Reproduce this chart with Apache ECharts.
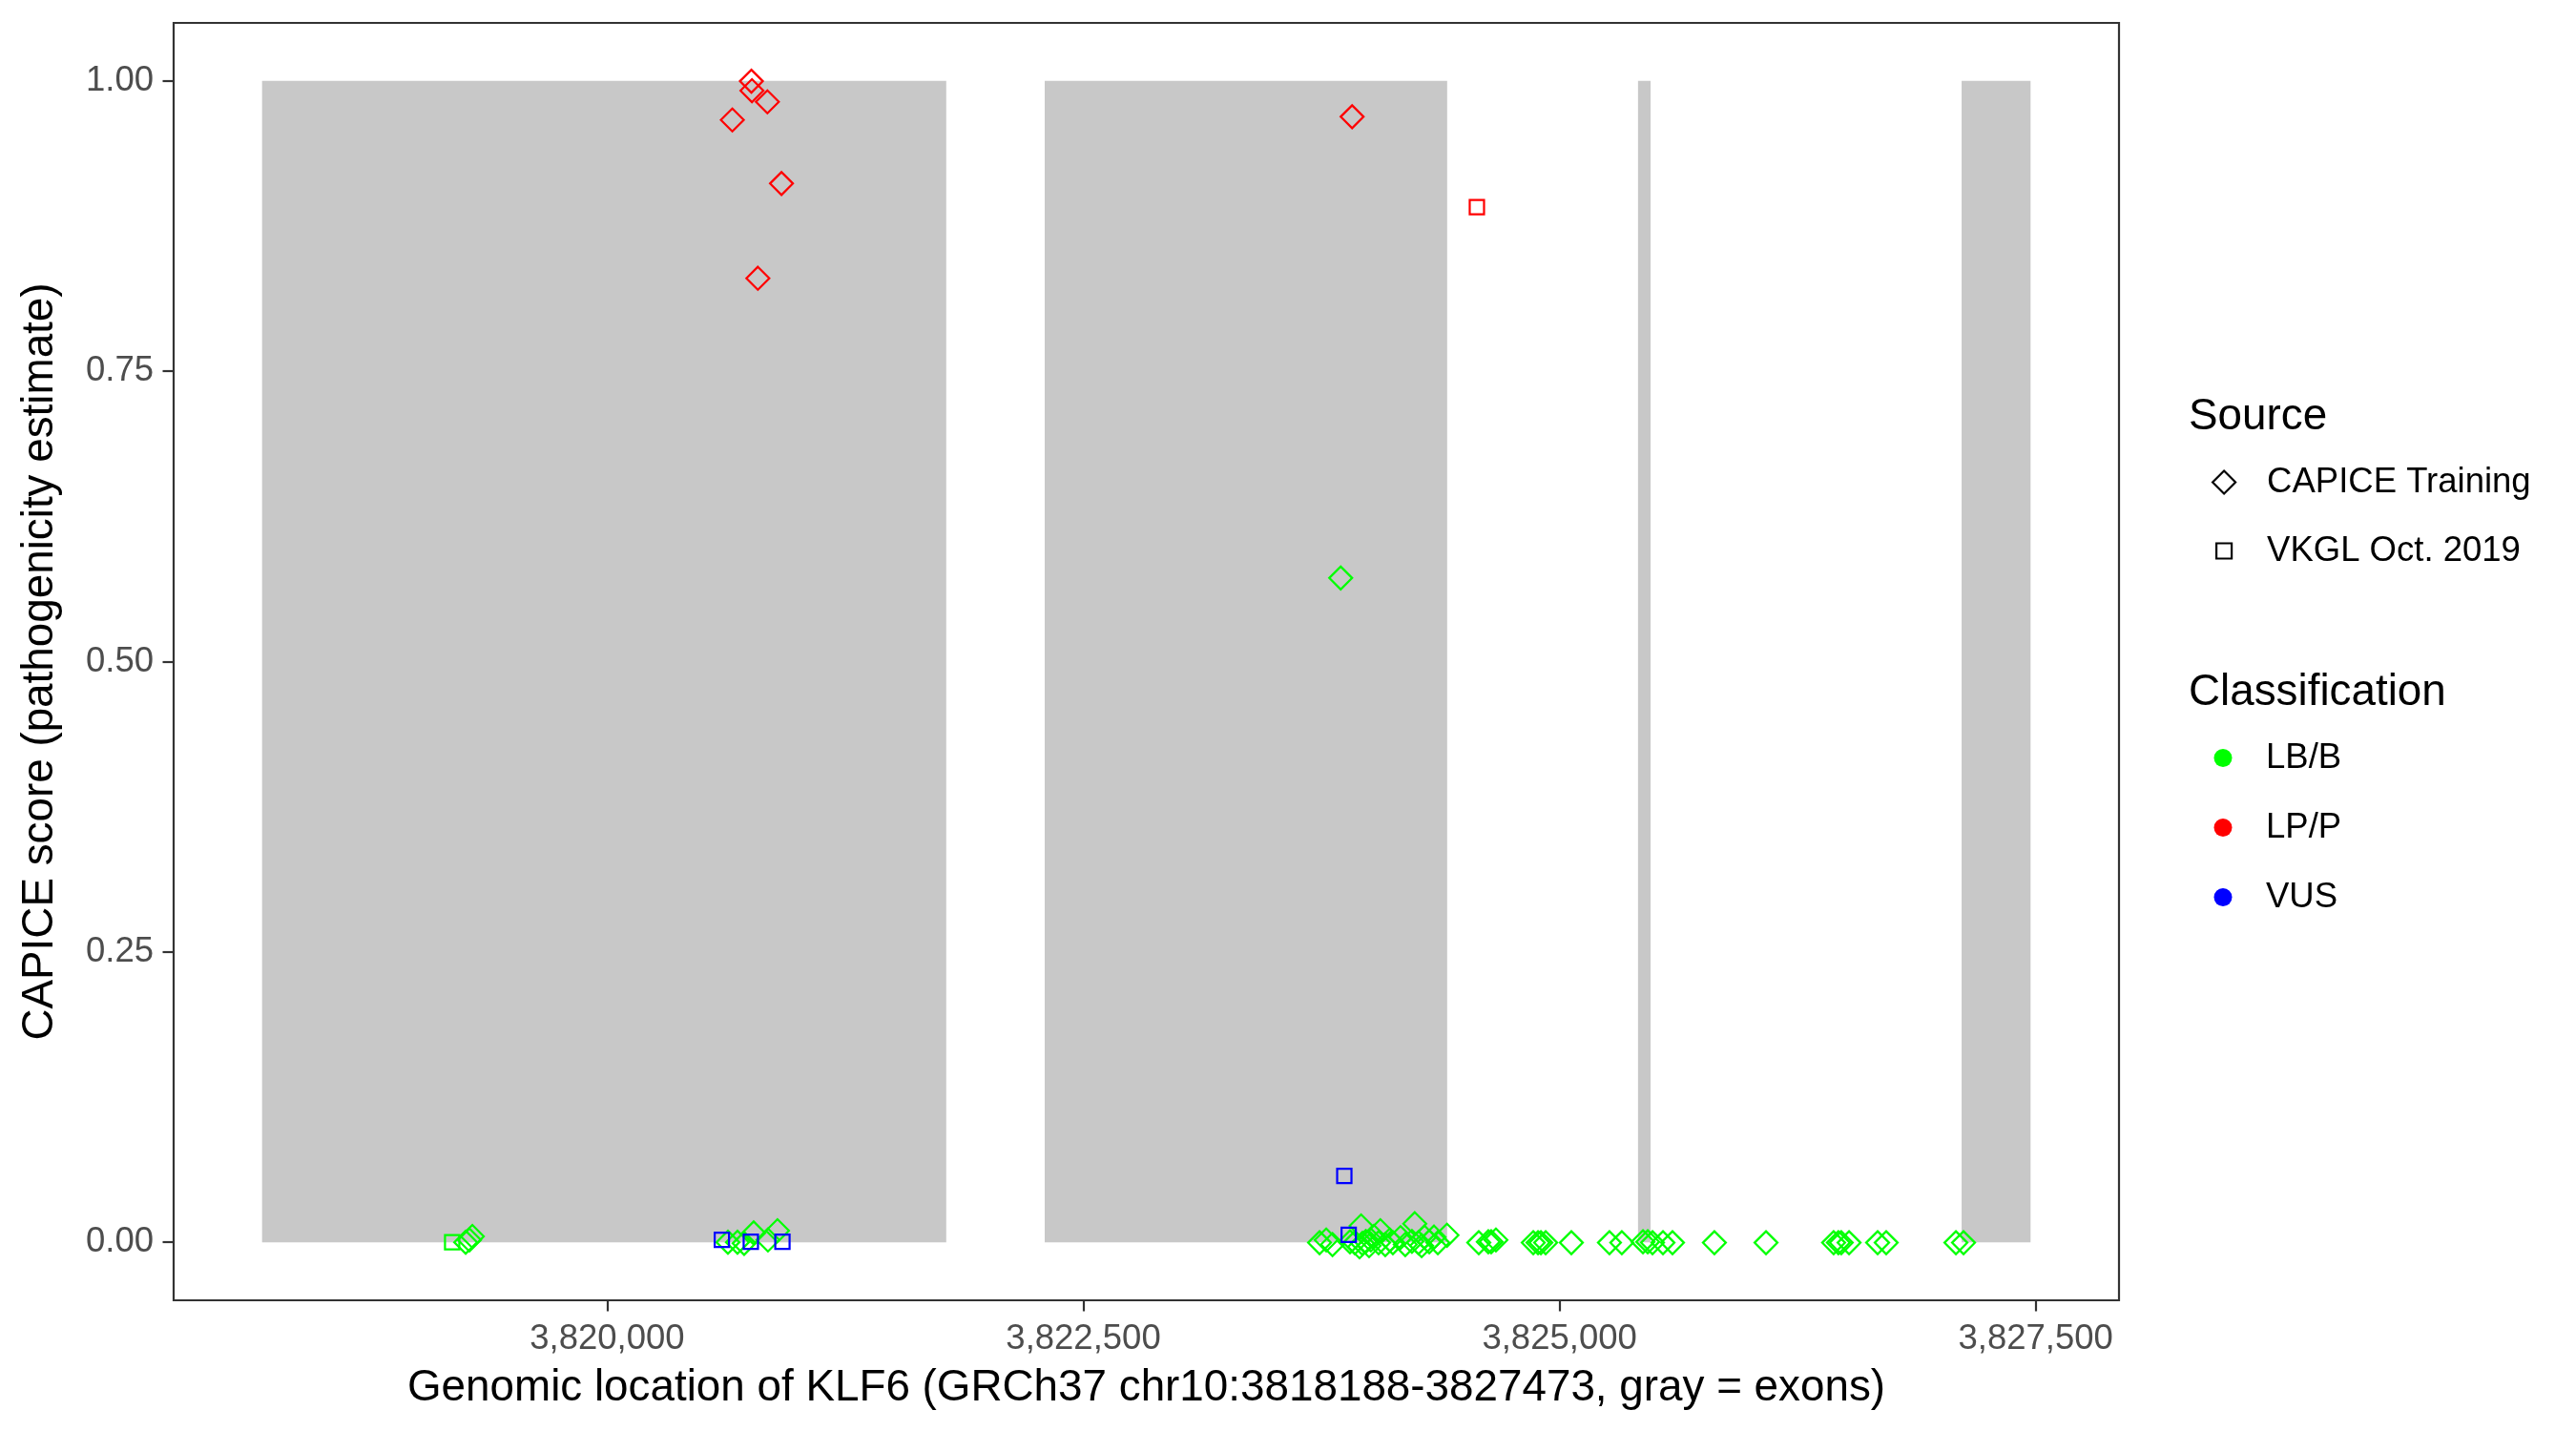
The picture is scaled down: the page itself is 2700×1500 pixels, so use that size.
<!DOCTYPE html>
<html>
<head>
<meta charset="utf-8">
<script src="https://cdn.jsdelivr.net/npm/echarts@6/dist/echarts.min.js"></script>
<style>
  html, body { margin: 0; padding: 0; background: #fff; }
  #chart { width: 2700px; height: 1500px; }
</style>
</head>
<body>
<div id="chart"></div>
<script>
// ---------------- data ----------------
const xTicks = [3820000, 3822500, 3825000, 3827500];
const yTicks = [0, 0.25, 0.5, 0.75, 1];
const geneStart = 3818188;
const geneEnd = 3827473;

const exonStarts = [3818188, 3822297, 3825412, 3827111];
const exonEnds   = [3821780, 3824410, 3825478, 3827473];

// CAPICE Training, LB/B (green diamonds) [position, score]
const capiceLBB = [
  [3819257, 0.000], [3819277, 0.002], [3819292, 0.005],
  [3820634, 0.000], [3820684, 0.000], [3820719, -0.001], [3820769, 0.008], [3820844, 0.002], [3820894, 0.010],
  [3823851, 0.572],
  [3823740, -0.0004], [3823775, 0.002], [3823808, -0.002], [3823900, 0.0004], [3823925, -0.0004],
  [3823950, -0.004], [3823958, 0.014], [3823965, -0.001], [3823983, 0.0007], [3824000, -0.003],
  [3824009, 0.002], [3824025, 0.005], [3824050, -0.0004], [3824059, 0.010], [3824085, -0.002],
  [3824109, 0.002], [3824125, -0.0004], [3824165, 0.004], [3824190, -0.002], [3824225, 0.0007],
  [3824240, 0.016], [3824259, -0.0004], [3824276, -0.003], [3824291, 0.0045], [3824316, 0.0004],
  [3824341, 0.0045], [3824361, -0.0004], [3824409, 0.006],
  [3824576, -0.0004], [3824626, 0.0004], [3824641, 0.0004], [3824666, 0.002],
  [3824862, -0.0004], [3824887, -0.0004], [3824902, -0.0004], [3824927, -0.0004], [3825062, -0.0004],
  [3825262, -0.0004], [3825327, -0.0004], [3825438, 0.0004], [3825463, 0.0004], [3825488, -0.0004],
  [3825543, -0.0004], [3825593, -0.0004], [3825813, -0.0004], [3826084, -0.0004],
  [3826439, -0.0004], [3826464, -0.0004], [3826479, -0.0004], [3826520, -0.0004],
  [3826670, -0.0004], [3826715, -0.0004], [3827081, -0.0004], [3827121, -0.0004]
];
// CAPICE Training, LP/P (red diamonds)
const capiceLPP = [
  [3820757, 0.9998], [3820760, 0.9916], [3820841, 0.982], [3820657, 0.9664],
  [3820915, 0.9117], [3820791, 0.8301], [3823911, 0.9692]
];
// VKGL Oct. 2019, LB/B (green squares)
const vkglLBB = [[3819186, 0.000]];
// VKGL Oct. 2019, LP/P (red squares)
const vkglLPP = [[3824566, 0.8914]];
// VKGL Oct. 2019, VUS (blue squares)
const vkglVUS = [
  [3823870, 0.0571], [3823893, 0.0064], [3820602, 0.002], [3820754, 0.0004], [3820920, 0.0004]
];

const classNames = ['LB/B', 'LP/P', 'VUS'];
const classColors = { 'LB/B': '#00FF00', 'LP/P': '#FF0000', 'VUS': '#0000FF' };

// ---------------- chart ----------------
const FONT = 'Liberation Sans, Arial, Helvetica, sans-serif';
const chart = echarts.init(document.getElementById('chart'), null, { renderer: 'canvas' });

const pad = 0.05 * (geneEnd - geneStart);

function pointSeries(name, symbol, size, cls, data) {
  return {
    name: name,
    type: 'scatter',
    symbol: symbol,
    symbolSize: size,
    data: data,
    z: 3,
    itemStyle: { color: 'rgba(0,0,0,0)', borderColor: classColors[cls], borderWidth: 2.2, opacity: 1 },
    emphasis: { disabled: true },
    silent: true
  };
}

function legendBlock(top, size, gap, items) {
  return {
    orient: 'vertical', left: 2330 - size / 2, top: top, padding: 0,
    itemWidth: size, itemHeight: size, itemGap: gap, selectedMode: false,
    textStyle: { fontSize: 36.5, color: '#000000', fontFamily: FONT, padding: [0, 0, 0, 40 - size / 2] },
    data: items
  };
}

const option = {
  animation: false,
  backgroundColor: '#ffffff',
  grid: {
    left: 182, right: 479, top: 24, bottom: 137,
    show: true, borderColor: '#333333', borderWidth: 2.2, backgroundColor: 'transparent', z: 10
  },
  xAxis: {
    type: 'value',
    min: geneStart - pad,
    max: geneEnd + pad,
    splitLine: { show: false },
    axisLine: { show: false, onZero: false },
    axisTick: { show: true, customValues: xTicks, length: 11.5, lineStyle: { color: '#333333', width: 2.2 } },
    axisLabel: {
      show: true, customValues: xTicks, margin: 22,
      formatter: v => Math.round(v).toLocaleString('en-US'),
      fontSize: 36.5, color: '#4D4D4D', fontFamily: FONT
    },
    name: 'Genomic location of KLF6 (GRCh37 chr10:3818188-3827473, gray = exons)',
    nameLocation: 'middle',
    nameGap: 69,
    nameTextStyle: { fontSize: 45.8, color: '#000000', fontFamily: FONT }
  },
  yAxis: {
    type: 'value',
    min: -0.05,
    max: 1.05,
    splitLine: { show: false },
    axisLine: { show: false, onZero: false },
    axisTick: { show: true, customValues: yTicks, length: 11.5, lineStyle: { color: '#333333', width: 2.2 } },
    axisLabel: {
      show: true, customValues: yTicks, margin: 21,
      formatter: v => v.toFixed(2),
      fontSize: 36.5, color: '#4D4D4D', fontFamily: FONT
    },
    name: 'CAPICE score (pathogenicity estimate)',
    nameLocation: 'middle',
    nameGap: 117,
    nameTextStyle: { fontSize: 45.8, color: '#000000', fontFamily: FONT }
  },
  legend: [
    legendBlock(487, 24, 10, [{ name: 'CAPICE Training', icon: 'diamond',
      itemStyle: { color: 'rgba(0,0,0,0)', borderColor: '#000000', borderWidth: 2.2 } }]),
    legendBlock(559, 16, 10, [{ name: 'VKGL Oct. 2019', icon: 'rect',
      itemStyle: { color: 'rgba(0,0,0,0)', borderColor: '#000000', borderWidth: 2.2 } }]),
    legendBlock(776, 19, 36, classNames.map(c => ({ name: c, icon: 'circle',
      itemStyle: { color: classColors[c], borderWidth: 0, opacity: 1 } })))
  ],
  graphic: [
    { type: 'text', x: 2294, y: 437, style: { text: 'Source', fontSize: 45.8, fontFamily: FONT, fill: '#000000', align: 'left', verticalAlign: 'middle' } },
    { type: 'text', x: 2294, y: 726, style: { text: 'Classification', fontSize: 45.8, fontFamily: FONT, fill: '#000000', align: 'left', verticalAlign: 'middle' } }
  ],
  series: [
    {
      name: 'exons',
      type: 'custom',
      z: 1,
      silent: true,
      encode: { x: [0, 1], y: [2, 3] },
      data: exonStarts.map((s, i) => [s, exonEnds[i], 0, 1]),
      renderItem: function (params, api) {
        const p0 = api.coord([api.value(0), api.value(3)]);
        const p1 = api.coord([api.value(1), api.value(2)]);
        return {
          type: 'rect',
          shape: { x: p0[0], y: p0[1], width: p1[0] - p0[0], height: p1[1] - p0[1] },
          style: { fill: '#C8C8C8' }
        };
      }
    },
    pointSeries('CAPICE Training', 'diamond', 24, 'LB/B', capiceLBB),
    pointSeries('CAPICE Training', 'diamond', 24, 'LP/P', capiceLPP),
    pointSeries('VKGL Oct. 2019', 'rect', 15, 'LB/B', vkglLBB),
    pointSeries('VKGL Oct. 2019', 'rect', 15, 'LP/P', vkglLPP),
    pointSeries('VKGL Oct. 2019', 'rect', 15, 'VUS', vkglVUS),
    { name: 'LB/B', type: 'scatter', data: [], itemStyle: { color: classColors['LB/B'] } },
    { name: 'LP/P', type: 'scatter', data: [], itemStyle: { color: classColors['LP/P'] } },
    { name: 'VUS', type: 'scatter', data: [], itemStyle: { color: classColors['VUS'] } }
  ]
};
chart.setOption(option);
</script>
</body>
</html>
